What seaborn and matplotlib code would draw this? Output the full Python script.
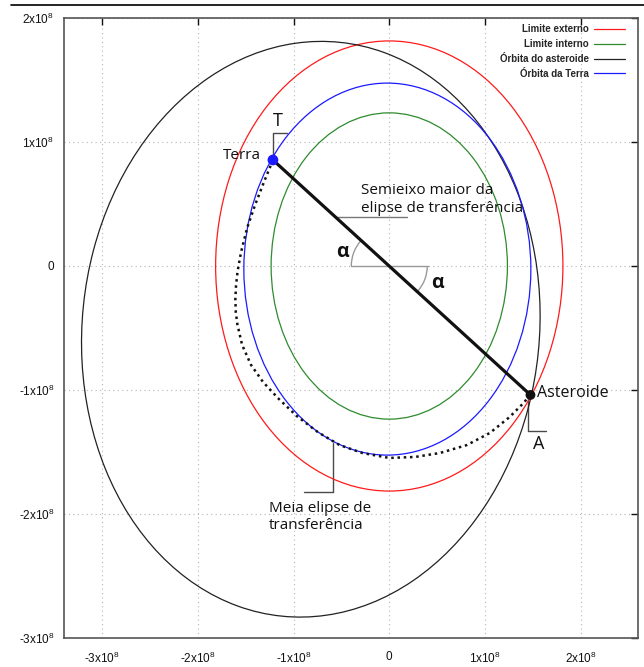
import matplotlib
matplotlib.use("Agg")
import matplotlib.pyplot as plt
from matplotlib.patches import Ellipse, Arc
from matplotlib.lines import Line2D
from matplotlib.ticker import FuncFormatter
import seaborn as sns
import pandas as pd

# all distances in units of 1x10^8
orbit_names = ['Limite externo', 'Limite interno', 'Órbita do asteroide', 'Órbita da Terra']
orbit_colors = ['#ff1a1a', '#2e8b2e', '#222222', '#1a1aff']
orbit_cx = [0.0, 0.0, -0.82, -0.02]
orbit_cy = [0.0, 0.0, -0.51, -0.025]
orbit_w = [3.63, 2.47, 4.85, 3.0]
orbit_h = [3.63, 2.47, 4.584, 3.0]
orbit_angle = [0.0, 0.0, 27.7, 0.0]

terra = [-1.216, 0.855]
asteroide = [1.476, -1.040]

# half transfer ellipse, traced from Terra to Asteroide
transfer_x = [-1.216, -1.310, -1.403, -1.486, -1.549, -1.585, -1.602, -1.609, -1.604, -1.588, -1.538,
              -1.445, -1.320, -1.164, -0.967, -0.748, -0.520, -0.281, 0.0, 0.270, 0.530, 0.811,
              1.050, 1.258, 1.393, 1.476]
transfer_y = [0.855, 0.677, 0.492, 0.306, 0.113, -0.040, -0.160, -0.270, -0.375, -0.470, -0.637,
              -0.798, -0.935, -1.065, -1.210, -1.339, -1.444, -1.508, -1.548, -1.540, -1.508, -1.444,
              -1.347, -1.218, -1.113, -1.040]

x_ticks = [-3, -2, -1, 0, 1, 2]
y_ticks = [-3, -2, -1, 0, 1, 2]

sns.set_theme(style='white')
plt.rcParams['font.family'] = ['Liberation Sans', 'DejaVu Sans']
plt.rcParams['mathtext.default'] = 'regular'

fig = plt.figure(figsize=(6.44, 6.67), dpi=100)
ax = fig.add_axes([64 / 644, 1 - 638 / 667, 574 / 644, 620 / 667])

# orbits
for cx, cy, w, h, ang, col in zip(orbit_cx, orbit_cy, orbit_w, orbit_h, orbit_angle, orbit_colors):
    ax.add_patch(Ellipse((cx, cy), w, h, angle=ang, fill=False, edgecolor=col, lw=0.9, zorder=3))

# transfer half ellipse
tr = pd.DataFrame({'x': transfer_x, 'y': transfer_y})
sns.lineplot(data=tr, x='x', y='y', sort=False, ax=ax, color='#111111', lw=1.8,
             linestyle=(0, (1, 1.5)), zorder=4)

# semi-major axis
axis_df = pd.DataFrame({'x': [terra[0], asteroide[0]], 'y': [terra[1], asteroide[1]]})
sns.lineplot(data=axis_df, x='x', y='y', sort=False, ax=ax, color='#111111', lw=2.3, zorder=5)
sns.scatterplot(x=[terra[0]], y=[terra[1]], ax=ax, color='#1a1aff', s=60, edgecolor='none', zorder=6)
sns.scatterplot(x=[asteroide[0]], y=[asteroide[1]], ax=ax, color='#111111', s=50, edgecolor='none', zorder=6)

# angle marks
lead = '#4a4a4a'
ax.plot([-0.405, 0.405], [0, 0], color='#999999', lw=1.0, zorder=2)
ax.add_patch(Arc((0, 0), 0.794, 0.613, theta1=144.9, theta2=180, color='#999999', lw=1.0))
ax.add_patch(Arc((0, 0), 0.794, 0.613, theta1=324.8, theta2=360, color='#999999', lw=1.0))

# leader lines
ax.plot([-1.216, -1.216, -1.071], [0.855, 1.073, 1.073], color=lead, lw=1.0, zorder=2)
ax.plot([1.455, 1.455, 1.642], [-1.065, -1.331, -1.331], color=lead, lw=1.0, zorder=2)
ax.plot([-0.561, 0.187], [0.395, 0.395], color='#777777', lw=1.0, zorder=2)
ax.plot([-0.593, -0.593, -0.894], [-1.427, -1.823, -1.823], color=lead, lw=1.0, zorder=2)

tf = dict(family=['Open Sans', 'DejaVu Sans'], color='#111111')
ax.text(-1.538, 0.895, 'Terra', fontsize=11, ha='center', va='center', **tf)
ax.text(1.549, -1.024, 'Asteroide', fontsize=11.5, ha='left', va='center', **tf)
ax.text(-1.164, 1.169, 'T', fontsize=13, ha='center', va='center', **tf)
ax.text(1.559, -1.435, 'A', fontsize=13, ha='center', va='center', **tf)
ax.text(-0.291, 0.536, 'Semieixo maior da\nelipse de transferência', fontsize=11,
        ha='left', va='center', linespacing=1.25, **tf)
ax.text(-1.258, -2.024, 'Meia elipse de\ntransferência', fontsize=11,
        ha='left', va='center', linespacing=1.25, **tf)
ax.text(-0.489, 0.113, 'α', fontsize=14, fontweight='bold', ha='center', va='center', **tf)
ax.text(0.499, -0.137, 'α', fontsize=14, fontweight='bold', ha='center', va='center', **tf)

# axes styling
ax.set_xlim(-3.4, 2.6)
ax.set_ylim(-3, 2)
ax.set_xticks(x_ticks)
ax.set_yticks(y_ticks)
fmt = FuncFormatter(lambda v, p: '0' if v == 0 else f'{int(v)}x10$^{{8}}$')
ax.xaxis.set_major_formatter(fmt)
ax.yaxis.set_major_formatter(fmt)
ax.set_xlabel('')
ax.set_ylabel('')
ax.grid(True, color='#b5b5b5', linestyle=(0, (1, 3)), lw=0.8)
ax.tick_params(direction='in', length=5, width=1, top=True, right=True,
               labelsize=8.5, colors='#111111')
ax.tick_params(axis='x', pad=9)
ax.tick_params(axis='y', pad=7)
for s in ax.spines.values():
    s.set_color('#555555')
    s.set_linewidth(1.2)

handles = [Line2D([], [], color=c, lw=0.9) for c in orbit_colors]
leg = ax.legend(handles, orbit_names, loc='upper right', bbox_to_anchor=(0.977, 0.99),
                frameon=False, markerfirst=False, borderpad=0, borderaxespad=0,
                handlelength=3.2, handletextpad=0.5, labelspacing=0.5,
                prop={'family': 'Liberation Sans', 'size': 7, 'weight': 'bold'})

fig.add_artist(Line2D([11 / 644, 1], [1 - 4.5 / 667, 1 - 4.5 / 667], color='black', lw=1.2))

fig.savefig('out.png', dpi=100)
